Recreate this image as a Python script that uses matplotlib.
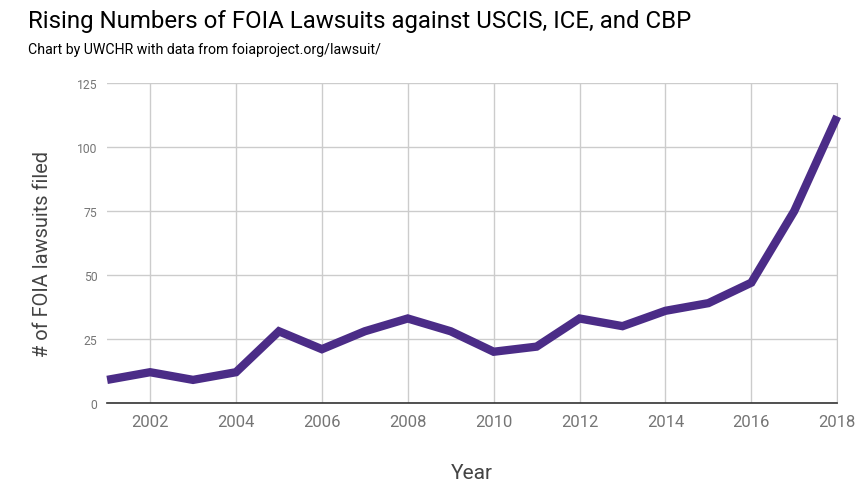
import matplotlib
matplotlib.use("Agg")
import matplotlib.pyplot as plt

years = [2001, 2002, 2003, 2004, 2005, 2006, 2007, 2008, 2009,
         2010, 2011, 2012, 2013, 2014, 2015, 2016, 2017, 2018]
lawsuits = [9, 12, 9, 12, 28, 21, 28, 33, 28,
            20, 22, 33, 30, 36, 39, 47, 75, 112]
x_ticks = [2002, 2004, 2006, 2008, 2010, 2012, 2014, 2016, 2018]
y_ticks = [0, 25, 50, 75, 100, 125]

plt.rcParams['font.family'] = ['Roboto', 'DejaVu Sans']

fig = plt.figure(figsize=(8.64, 4.89), dpi=100)
ax = fig.add_axes([0.124, 0.174, 0.845, 0.654])

ax.plot(years, lawsuits, color="#4b2c87", linewidth=6, solid_joinstyle="miter",
        solid_capstyle="butt", zorder=3, clip_on=False)

ax.set_xlim(2001, 2018)
ax.set_ylim(0, 125)
ax.set_xticks(x_ticks)
ax.set_yticks(y_ticks)
ax.grid(True, color="#cccccc", linewidth=1)
ax.set_axisbelow(True)

for side in ["top", "left"]:
    ax.spines[side].set_visible(False)
ax.spines["right"].set_color("#cccccc")
ax.spines["bottom"].set_color("#333333")
ax.spines["bottom"].set_linewidth(1.2)

ax.tick_params(axis="x", length=0, labelsize=12, labelcolor="#757575", pad=8)
ax.tick_params(axis="y", length=0, labelsize=8.7, labelcolor="#757575", pad=7)

ax.set_xlabel("Year", fontsize=15, color="#444444")
ax.xaxis.set_label_coords(0.499, -0.188)
ax.set_ylabel("# of FOIA lawsuits filed", fontsize=14.4, color="#444444")
ax.yaxis.set_label_coords(-0.076, 0.47)

fig.text(0.032, 0.957, "Rising Numbers of FOIA Lawsuits against USCIS, ICE, and CBP",
         fontsize=17.3, color="#000000", va="center")
fig.text(0.032, 0.897, "Chart by UWCHR with data from foiaproject.org/lawsuit/",
         fontsize=10.2, color="#000000", va="center")

fig.savefig("out.png", dpi=100)
